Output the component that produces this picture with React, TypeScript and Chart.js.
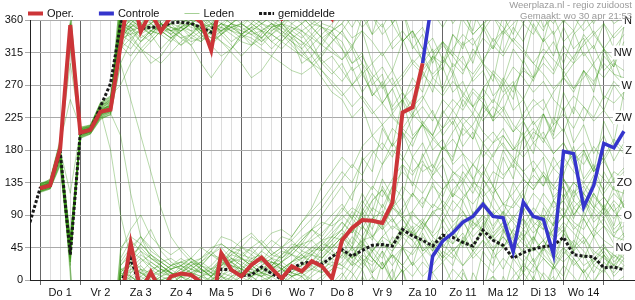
import { useEffect, useRef } from 'react';
import { Chart, registerables } from 'chart.js';

Chart.register(...registerables);

// ---- categories / ticks ----
const HOURS = [-6, 0, 6, 12, 18, 24, 30, 36, 42, 48, 54, 60, 66, 72, 78, 84, 90, 96, 102, 108, 114, 120, 126, 132, 138, 144, 150, 156, 162, 168, 174, 180, 186, 192, 198, 204, 210, 216, 222, 228, 234, 240, 246, 252, 258, 264, 270, 276, 282, 288, 294, 300, 306, 312, 318, 324, 330, 336, 342, 348];
const DAY_LABELS = ['Do 1', 'Vr 2', 'Za 3', 'Zo 4', 'Ma 5', 'Di 6', 'Wo 7', 'Do 8', 'Vr 9', 'Za 10', 'Zo 11', 'Ma 12', 'Di 13', 'Wo 14'];
const Y_TICKS = [0, 45, 90, 135, 180, 225, 270, 315, 360];
const COMPASS_VALUES = [360, 315, 270, 225, 180, 135, 90, 45];
const COMPASS_LABELS = ['N', 'NW', 'W', 'ZW', 'Z', 'ZO', 'O', 'NO'];
const SERIES_NAMES = ['Oper.', 'Controle', 'Leden', 'gemiddelde'];
const TITLE_LINES = ['Weerplaza.nl - regio zuidoost', 'Gemaakt: wo 30 apr 21:53'];

// ---- series (wind direction, degrees) ----
const OPER = [null, 127, 131, 182, 353, 204, 208, 233, 236, 325, 51, 344, 11, 344, 5, 9, 7, 357, 318, 37, 14, 5, 21, 31, 16, 2, 19, 12, 26, 19, 2, 55, 72, 83, 82, 79, 107, 232, 239, 300, null, null, null, null, null, null, null, null, null, null, null, null, null, null, null, null, null, null, null, null];
const CONTROLE = [null, null, null, null, null, null, null, null, null, null, null, null, null, null, null, null, null, null, null, null, null, null, null, null, null, null, null, null, null, null, null, null, null, null, null, null, null, null, null, 300, 33, 54, 65, 80, 88, 105, 88, 86, 39, 108, 88, 84, 35, 178, 175, 101, 131, 189, 183, 206];
const GEMIDDELDE = [80, 127, 131, 178, 35, 204, 208, 240, 272, 355, 30, 348, 350, 350, 356, 357, 355, 350, 343, 15, 14, 6, 7, 18, 9, 1, 16, 23, 25, 22, 32, 42, 33, 41, 48, 49, 47, 70, 61, 55, 47, 62, 59, 52, 47, 69, 55, 48, 30, 38, 43, 46, 48, 59, 35, 33, 32, 17, 18, 14];

const LID_01 = [null, 128, 133, 185, 350, 206, 210, 238, 242, 330, 355, 345, 5, 350, 2, 8, 5, 355, 320, 30, 12, 5, 20, 28, 15, 3, 18, 10, 25, 15, 5, 50, 72, 60, 85, 75, 100, 130, 115, 160, 150, 185, 170, 210, 195, 230, 250, 235, 270, 290, 280, 310, 330, 300, 340, 355, 20, 10, 40, 30];
const LID_02 = [null, 125, 130, 178, 45, 203, 207, 230, 236, 345, 10, 20, 5, 15, 10, 3, 8, 2, 350, 40, 25, 15, 30, 35, 20, 10, 25, 30, 40, 45, 35, 40, 30, 55, 60, 45, 50, 70, 65, 55, 40, 60, 75, 90, 80, 70, 55, 45, 60, 35, 20, 45, 70, 90, 75, 60, 40, 30, 20, 15];
const LID_03 = [null, 130, 136, 170, 35, 200, 205, 228, 240, 340, 350, 335, 345, 340, 330, 350, 355, 345, 335, 350, 340, 330, 325, 345, 355, 340, 330, 320, 335, 350, 345, 355, 335, 345, 300, 315, 290, 330, 345, 320, 335, 305, 290, 255, 280, 300, 275, 340, 355, 10, 350, 330, 345, 280, 260, 290, 270, 310, 295, 330];
const LID_04 = [null, 122, 128, 160, 30, 198, 206, 232, 245, 20, 35, 45, 30, 25, 15, 20, 10, 15, 5, 25, 35, 45, 40, 30, 20, 35, 45, 50, 55, 40, 60, 70, 95, 80, 110, 125, 100, 115, 80, 70, 95, 100, 125, 140, 120, 150, 130, 105, 100, 120, 80, 70, 95, 110, 85, 120, 100, 85, 105, 60];
const LID_05 = [null, 132, 138, 190, 355, 210, 212, 240, 250, 355, 345, 330, 340, 350, 345, 335, 340, 330, 345, 355, 350, 340, 335, 325, 340, 350, 335, 300, 310, 330, 345, 320, 290, 300, 255, 270, 235, 250, 265, 280, 310, 300, 340, 325, 335, 300, 285, 260, 275, 220, 240, 250, 215, 290, 265, 280, 300, 250, 275, 260];
const LID_06 = [null, 126, 131, 175, 50, 205, 209, 235, 238, 10, 5, 15, 355, 10, 20, 25, 30, 15, 10, 5, 355, 350, 5, 15, 25, 20, 10, 5, 15, 30, 45, 60, 85, 70, 100, 90, 130, 115, 170, 150, 160, 140, 115, 150, 130, 190, 170, 200, 180, 205, 150, 170, 110, 130, 90, 110, 95, 150, 125, 120];
const LID_07 = [null, 129, 134, 168, 25, 202, 204, 226, 232, 335, 5, 355, 350, 345, 355, 5, 15, 10, 355, 345, 350, 340, 350, 0, 5, 15, 25, 35, 20, 10, 30, 40, 20, 30, 5, 350, 15, 330, 345, 300, 320, 260, 285, 240, 265, 250, 290, 275, 320, 300, 355, 330, 20, 5, 50, 30, 60, 35, 15, 40];
const LID_08 = [null, 124, 129, 182, 40, 207, 211, 236, 248, 350, 40, 60, 45, 30, 20, 15, 25, 30, 45, 50, 40, 35, 30, 25, 45, 60, 55, 40, 35, 50, 65, 80, 65, 90, 60, 75, 45, 70, 55, 80, 65, 95, 70, 85, 50, 65, 40, 60, 45, 70, 55, 90, 75, 120, 90, 110, 80, 95, 65, 75];
const LID_09 = [null, 131, 140, 195, 340, 212, 214, 244, 252, 345, 340, 320, 300, 310, 330, 345, 355, 340, 325, 310, 320, 340, 350, 345, 330, 320, 335, 345, 355, 5, 15, 25, 45, 30, 20, 40, 355, 15, 320, 340, 300, 330, 310, 10, 345, 40, 20, 70, 45, 100, 75, 90, 60, 75, 40, 55, 20, 35, 5, 20];
const LID_10 = [null, 127, 132, 172, 55, 204, 208, 231, 239, 15, 20, 10, 5, 0, 5, 10, 20, 25, 15, 20, 30, 25, 15, 10, 5, 10, 20, 30, 35, 25, 20, 15, 35, 20, 45, 30, 60, 45, 70, 40, 55, 35, 20, 60, 40, 80, 55, 70, 40, 60, 25, 45, 30, 65, 50, 95, 70, 85, 60, 55];
const LID_11 = [null, 123, 127, 165, 38, 199, 203, 225, 228, 300, 330, 350, 340, 355, 345, 350, 340, 355, 5, 340, 350, 355, 345, 335, 350, 355, 5, 10, 355, 350, 340, 330, 300, 315, 270, 285, 230, 250, 200, 215, 180, 195, 160, 175, 140, 160, 130, 180, 155, 220, 195, 230, 205, 240, 190, 215, 175, 200, 165, 190];
const LID_12 = [null, 133, 137, 188, 300, 209, 213, 242, 246, 340, 355, 5, 15, 20, 10, 5, 0, 355, 350, 5, 15, 10, 5, 20, 30, 40, 35, 25, 15, 10, 20, 35, 60, 45, 85, 70, 100, 90, 120, 100, 135, 105, 80, 95, 70, 85, 60, 75, 50, 65, 40, 55, 30, 45, 20, 35, 10, 35, 20, 50];
const LID_13 = [null, 128, 135, 176, 42, 206, 210, 237, 241, 320, 350, 0, 10, 355, 350, 345, 355, 5, 10, 20, 25, 15, 10, 5, 10, 5, 15, 20, 25, 20, 30, 45, 30, 60, 40, 55, 30, 45, 20, 35, 10, 25, 355, 15, 340, 355, 5, 340, 30, 10, 60, 40, 80, 65, 100, 85, 120, 95, 130, 100];
const LID_14 = [null, 121, 126, 158, 20, 196, 202, 222, 230, 10, 25, 50, 70, 40, 25, 15, 5, 20, 35, 45, 30, 20, 10, 5, 15, 25, 40, 55, 70, 90, 110, 130, 110, 170, 150, 210, 185, 250, 225, 290, 260, 310, 285, 330, 300, 350, 320, 5, 340, 25, 0, 45, 20, 65, 40, 85, 60, 105, 75, 125];
const LID_15 = [null, 130, 134, 180, 120, 208, 210, 234, 180, 90, 30, 15, 5, 10, 15, 20, 10, 5, 0, 10, 25, 35, 45, 30, 25, 15, 5, 10, 20, 35, 50, 65, 45, 95, 70, 105, 85, 60, 75, 40, 50, 30, 70, 45, 95, 65, 115, 90, 135, 110, 155, 130, 170, 145, 185, 140, 160, 120, 140, 100];
const LID_16 = [null, 126, 130, 174, 48, 203, 206, 229, 235, 355, 350, 340, 330, 345, 355, 350, 345, 335, 330, 340, 355, 5, 355, 345, 340, 330, 320, 310, 300, 280, 260, 250, 225, 240, 200, 215, 185, 205, 170, 190, 155, 185, 165, 215, 195, 245, 220, 275, 250, 305, 280, 335, 310, 350, 320, 335, 300, 320, 285, 280];
const LID_17 = [null, 129, 133, 183, 358, 207, 209, 239, 244, 335, 340, 345, 355, 5, 10, 355, 350, 345, 340, 355, 5, 10, 15, 5, 355, 350, 5, 15, 25, 40, 55, 70, 50, 100, 80, 130, 105, 160, 130, 175, 145, 160, 115, 135, 90, 110, 70, 95, 60, 85, 50, 100, 75, 140, 110, 180, 150, 220, 190, 260];
const LID_18 = [null, 125, 131, 170, 33, 201, 205, 227, 233, 5, 355, 345, 350, 0, 5, 10, 5, 355, 350, 345, 355, 5, 10, 15, 10, 5, 355, 345, 335, 325, 315, 305, 320, 285, 300, 265, 280, 245, 280, 260, 310, 290, 340, 320, 10, 345, 40, 15, 45, 10, 30, 350, 5, 330, 345, 310, 325, 290, 305, 270];
const LID_19 = [null, 134, 139, 192, 250, 211, 215, 246, 255, 270, 300, 320, 310, 300, 315, 330, 340, 350, 355, 350, 345, 340, 330, 320, 310, 300, 290, 285, 295, 310, 330, 345, 320, 5, 340, 25, 0, 45, 20, 65, 40, 85, 60, 110, 80, 140, 115, 170, 140, 200, 175, 230, 200, 260, 230, 290, 260, 320, 295, 350];
const LID_20 = [null, 127, 132, 177, 60, 204, 207, 233, 237, 350, 25, 40, 30, 20, 10, 5, 355, 350, 5, 15, 25, 30, 20, 10, 5, 15, 25, 35, 45, 55, 60, 55, 30, 45, 10, 25, 355, 15, 335, 350, 315, 330, 295, 310, 275, 290, 255, 270, 235, 250, 215, 230, 195, 210, 175, 190, 155, 170, 135, 150];
const LID_21 = [null, 129, 134, 181, 30, 205, 209, 236, 240, 350, 15, 30, 20, 10, 5, 15, 25, 20, 10, 30, 45, 40, 25, 15, 20, 35, 50, 45, 60, 75, 90, 105, 85, 120, 95, 140, 115, 90, 70, 85, 60, 75, 50, 65, 40, 55, 30, 45, 70, 55, 90, 70, 110, 85, 125, 100, 140, 115, 95, 80];
const LID_22 = [null, 126, 130, 176, 352, 203, 208, 234, 243, 340, 330, 315, 330, 345, 355, 340, 325, 340, 355, 345, 330, 340, 350, 335, 320, 335, 350, 345, 330, 300, 285, 300, 270, 290, 255, 275, 240, 260, 230, 250, 280, 265, 300, 285, 320, 300, 335, 315, 350, 330, 5, 345, 20, 355, 30, 10, 340, 355, 320, 340];
const LID_23 = [null, 124, 129, 168, 45, 201, 205, 229, 236, 5, 20, 35, 25, 15, 5, 10, 20, 30, 40, 25, 15, 30, 45, 55, 40, 30, 45, 60, 70, 55, 40, 30, 45, 25, 40, 20, 35, 10, 25, 5, 20, 40, 30, 55, 45, 70, 60, 80, 65, 50, 40, 55, 35, 25, 40, 20, 30, 45, 35, 25];
const LID_24 = [null, 131, 136, 187, 340, 208, 212, 241, 248, 355, 350, 5, 355, 345, 335, 345, 355, 350, 340, 330, 320, 335, 345, 355, 350, 340, 325, 310, 325, 340, 355, 10, 350, 15, 340, 355, 320, 335, 300, 315, 280, 295, 260, 275, 240, 255, 220, 235, 205, 220, 190, 205, 175, 190, 160, 175, 150, 165, 140, 155];
const LID_25 = [null, 127, 133, 179, 50, 204, 208, 235, 239, 25, 45, 60, 40, 30, 20, 25, 15, 10, 20, 35, 25, 45, 60, 50, 35, 45, 55, 70, 85, 100, 120, 140, 160, 145, 175, 190, 170, 205, 185, 220, 200, 235, 215, 250, 230, 265, 245, 280, 260, 295, 275, 310, 290, 325, 305, 340, 320, 355, 335, 350];
const LID_26 = [null, 123, 128, 166, 28, 199, 204, 228, 234, 340, 355, 10, 0, 350, 345, 355, 5, 15, 5, 355, 345, 355, 5, 15, 25, 15, 5, 355, 5, 15, 25, 20, 35, 50, 40, 60, 75, 65, 90, 80, 105, 95, 120, 110, 135, 125, 150, 140, 165, 150, 130, 145, 115, 130, 100, 115, 85, 100, 70, 85];
const LID_27 = [null, 130, 135, 186, 355, 207, 211, 240, 246, 330, 345, 355, 345, 340, 350, 340, 330, 335, 350, 5, 355, 345, 340, 330, 345, 355, 340, 330, 320, 305, 290, 275, 295, 260, 280, 245, 265, 230, 250, 215, 235, 200, 220, 185, 205, 170, 190, 200, 180, 195, 210, 190, 225, 205, 240, 220, 255, 235, 270, 250];
const LID_28 = [null, 128, 132, 180, 40, 205, 209, 232, 238, 15, 10, 25, 35, 20, 10, 0, 355, 5, 15, 25, 20, 15, 10, 20, 30, 25, 15, 20, 35, 50, 45, 60, 45, 75, 55, 90, 70, 85, 60, 75, 50, 65, 40, 55, 30, 45, 60, 45, 70, 85, 65, 80, 55, 70, 45, 60, 35, 50, 25, 40];
const LID_29 = [null, 125, 129, 172, 20, 202, 206, 231, 235, 345, 0, 15, 10, 355, 340, 350, 0, 345, 330, 340, 355, 10, 0, 350, 340, 330, 345, 355, 10, 25, 40, 55, 70, 50, 85, 95, 80, 100, 120, 105, 130, 115, 150, 140, 160, 145, 175, 190, 165, 180, 205, 195, 215, 230, 210, 240, 225, 255, 245, 260];
const LID_30 = [null, 132, 137, 184, 345, 209, 213, 243, 251, 350, 335, 320, 335, 350, 340, 325, 335, 345, 355, 340, 325, 310, 325, 340, 355, 345, 330, 315, 300, 315, 330, 345, 5, 25, 10, 40, 20, 45, 35, 55, 30, 60, 50, 80, 60, 75, 95, 70, 85, 105, 90, 120, 100, 110, 135, 120, 145, 125, 150, 140];
const LID_31 = [null, 126, 131, 174, 55, 203, 207, 230, 237, 10, 30, 50, 35, 25, 15, 20, 30, 45, 35, 25, 40, 55, 65, 50, 35, 30, 40, 55, 70, 80, 75, 85, 100, 90, 110, 125, 105, 85, 95, 75, 90, 110, 95, 115, 130, 110, 90, 105, 85, 70, 90, 75, 60, 80, 65, 50, 70, 55, 45, 60];
const LID_32 = [null, 129, 134, 182, 350, 206, 210, 237, 241, 325, 310, 330, 345, 355, 345, 335, 325, 300, 280, 300, 320, 340, 355, 345, 330, 340, 355, 5, 350, 335, 320, 305, 325, 300, 280, 295, 270, 285, 305, 290, 310, 330, 315, 300, 285, 305, 325, 310, 335, 320, 300, 285, 265, 280, 300, 315, 295, 280, 300, 290];
const LID_33 = [null, 122, 127, 162, 35, 197, 203, 224, 231, 200, 120, 60, 30, 20, 10, 5, 15, 25, 35, 30, 20, 10, 15, 25, 35, 45, 60, 80, 100, 130, 150, 170, 155, 185, 200, 180, 210, 195, 225, 240, 220, 250, 235, 215, 230, 205, 190, 210, 185, 170, 190, 175, 155, 170, 150, 135, 155, 140, 125, 145];
const LID_34 = [null, 133, 138, 189, 330, 210, 214, 245, 253, 350, 5, 355, 340, 320, 335, 350, 0, 345, 330, 345, 355, 340, 325, 335, 350, 355, 340, 320, 300, 290, 275, 260, 240, 255, 235, 215, 230, 210, 195, 215, 200, 180, 195, 175, 160, 180, 165, 145, 160, 140, 125, 145, 130, 115, 135, 120, 100, 115, 95, 110];
const LID_35 = [null, 128, 133, 178, 45, 205, 208, 233, 240, 20, 40, 30, 15, 5, 0, 10, 25, 15, 5, 20, 40, 30, 20, 10, 25, 20, 10, 25, 40, 30, 50, 40, 25, 45, 30, 15, 35, 20, 5, 25, 10, 350, 15, 0, 340, 355, 330, 345, 5, 20, 10, 30, 15, 40, 25, 10, 30, 15, 35, 20];
const LID_36 = [null, 127, 131, 175, 38, 204, 207, 232, 238, 355, 345, 350, 5, 15, 10, 355, 345, 350, 0, 10, 5, 355, 345, 335, 350, 5, 15, 10, 0, 350, 335, 320, 300, 310, 285, 270, 290, 260, 240, 255, 230, 210, 225, 200, 215, 240, 225, 255, 270, 250, 280, 300, 285, 315, 300, 330, 345, 320, 340, 355];
const LID_37 = [null, 124, 128, 169, 42, 200, 205, 227, 234, 15, 5, 355, 10, 25, 15, 5, 10, 20, 15, 5, 0, 15, 25, 40, 30, 15, 25, 40, 55, 65, 80, 95, 120, 140, 125, 160, 180, 165, 195, 215, 200, 230, 250, 235, 260, 245, 225, 240, 215, 200, 220, 195, 175, 190, 165, 180, 150, 170, 195, 180];
const LID_38 = [null, 131, 135, 186, 345, 208, 212, 241, 249, 340, 350, 330, 345, 355, 345, 350, 335, 330, 345, 355, 345, 335, 345, 355, 5, 355, 345, 335, 350, 0, 15, 35, 20, 50, 30, 15, 40, 60, 45, 70, 95, 80, 110, 95, 75, 90, 65, 80, 55, 40, 60, 35, 20, 45, 30, 10, 25, 40, 20, 35];
const LID_39 = [null, 128, 133, 181, 48, 206, 209, 236, 242, 30, 55, 40, 20, 10, 20, 30, 20, 10, 5, 15, 30, 20, 10, 5, 20, 30, 45, 35, 25, 45, 60, 80, 65, 95, 120, 100, 130, 150, 135, 120, 145, 170, 150, 135, 160, 140, 120, 135, 110, 95, 120, 105, 85, 100, 80, 70, 95, 75, 60, 85];
const LID_40 = [null, 125, 130, 173, 30, 202, 206, 230, 236, 335, 350, 355, 345, 350, 355, 5, 355, 340, 325, 340, 350, 355, 345, 330, 340, 355, 350, 340, 320, 300, 310, 290, 270, 285, 260, 245, 265, 280, 300, 285, 270, 255, 275, 260, 240, 220, 240, 225, 205, 230, 250, 235, 260, 280, 265, 290, 275, 300, 285, 270];
const LID_41 = [null, 129, 134, 180, 352, 205, 209, 234, 240, 5, 15, 10, 0, 355, 5, 15, 10, 5, 355, 5, 20, 15, 5, 10, 20, 15, 5, 10, 15, 25, 30, 20, 10, 350, 5, 340, 355, 330, 345, 320, 305, 325, 310, 290, 310, 335, 320, 345, 330, 355, 340, 10, 355, 20, 5, 345, 0, 15, 355, 5];
const LID_42 = [null, 122, 126, 160, 25, 197, 202, 223, 229, 300, 250, 200, 150, 100, 60, 40, 25, 15, 5, 20, 35, 30, 20, 10, 15, 25, 35, 50, 40, 55, 70, 90, 75, 105, 130, 115, 140, 160, 145, 170, 195, 180, 205, 225, 210, 190, 205, 185, 170, 150, 165, 145, 125, 140, 115, 130, 105, 90, 110, 95];
const LID_43 = [null, 133, 138, 191, 335, 210, 214, 245, 254, 330, 320, 340, 350, 345, 335, 325, 340, 355, 345, 330, 315, 300, 280, 290, 310, 330, 345, 355, 340, 325, 345, 5, 25, 15, 40, 60, 50, 75, 65, 45, 30, 50, 35, 20, 40, 25, 10, 30, 15, 355, 20, 5, 340, 0, 345, 15, 355, 25, 10, 30];
const LID_44 = [null, 126, 132, 177, 52, 204, 208, 233, 239, 45, 60, 50, 35, 25, 30, 20, 15, 25, 40, 60, 55, 45, 35, 50, 65, 70, 60, 80, 95, 110, 130, 150, 135, 165, 180, 160, 190, 170, 150, 165, 140, 125, 145, 160, 140, 115, 130, 105, 120, 140, 125, 150, 130, 155, 175, 160, 185, 165, 190, 175];
const LID_45 = [null, 130, 135, 184, 5, 207, 211, 239, 245, 345, 0, 350, 340, 355, 350, 345, 355, 345, 335, 345, 355, 350, 340, 345, 355, 345, 335, 325, 340, 355, 350, 340, 325, 345, 330, 310, 330, 345, 325, 305, 285, 300, 320, 340, 325, 345, 5, 350, 330, 315, 300, 320, 305, 290, 310, 325, 340, 320, 305, 325];
const LID_46 = [null, 123, 127, 164, 32, 198, 203, 225, 232, 5, 20, 10, 25, 15, 5, 20, 30, 20, 10, 0, 10, 20, 35, 25, 15, 25, 35, 30, 45, 40, 55, 70, 90, 75, 60, 80, 100, 85, 65, 80, 60, 45, 65, 50, 70, 90, 75, 95, 80, 60, 75, 55, 70, 90, 110, 95, 120, 100, 85, 105];
const LID_47 = [null, 127, 131, 176, 355, 203, 207, 231, 237, 350, 340, 355, 5, 350, 340, 355, 5, 355, 345, 350, 5, 15, 5, 355, 345, 355, 10, 5, 350, 335, 345, 355, 15, 35, 25, 50, 40, 65, 55, 35, 50, 30, 45, 20, 35, 55, 40, 65, 90, 75, 100, 85, 110, 95, 70, 85, 60, 75, 50, 65];
const LID_48 = [null, 132, 136, 188, 58, 209, 212, 242, 250, 40, 70, 90, 60, 45, 35, 45, 30, 20, 35, 50, 40, 30, 25, 40, 55, 45, 35, 50, 70, 60, 80, 100, 85, 110, 90, 70, 85, 65, 95, 115, 100, 125, 140, 120, 105, 125, 100, 85, 105, 125, 145, 130, 155, 140, 120, 135, 115, 100, 120, 105];
const LID_49 = [null, 128, 132, 179, 320, 206, 210, 235, 241, 320, 335, 345, 355, 345, 335, 345, 355, 350, 345, 355, 350, 345, 355, 10, 0, 350, 340, 330, 310, 290, 270, 255, 270, 250, 230, 245, 225, 210, 230, 215, 195, 210, 235, 255, 240, 265, 285, 270, 295, 280, 260, 275, 250, 235, 255, 240, 220, 235, 215, 230];
const LID_50 = [null, 125, 129, 171, 15, 201, 205, 229, 233, 10, 0, 350, 355, 5, 15, 25, 20, 10, 15, 30, 25, 10, 5, 355, 5, 15, 10, 20, 35, 30, 45, 60, 40, 55, 30, 15, 35, 20, 40, 60, 45, 25, 40, 55, 80, 65, 45, 60, 40, 25, 45, 30, 15, 35, 55, 40, 25, 45, 30, 50];
const LEDEN = [LID_01, LID_02, LID_03, LID_04, LID_05, LID_06, LID_07, LID_08, LID_09, LID_10, LID_11, LID_12, LID_13, LID_14, LID_15, LID_16, LID_17, LID_18, LID_19, LID_20, LID_21, LID_22, LID_23, LID_24, LID_25, LID_26, LID_27, LID_28, LID_29, LID_30, LID_31, LID_32, LID_33, LID_34, LID_35, LID_36, LID_37, LID_38, LID_39, LID_40, LID_41, LID_42, LID_43, LID_44, LID_45, LID_46, LID_47, LID_48, LID_49, LID_50];

// ---- styles ----
const FONT = "'Liberation Sans', Arial, sans-serif";
const RED = '#cc3538';
const BLUE = '#3535cc';
const GREEN = 'rgba(55,150,20,0.36)';
const BLACK = '#1a1a1a';

function unwrap(vals: (number | null)[]) {
  const out: (number | null)[] = [];
  let prev: number | null = null;
  for (const v of vals) {
    if (v == null) { out.push(null); prev = null; continue; }
    let u = v;
    if (prev != null) {
      while (u - prev > 180) u -= 360;
      while (u - prev < -180) u += 360;
    }
    out.push(u);
    prev = u;
  }
  return out;
}

function wrapped(vals: (number | null)[], base: any) {
  const u = unwrap(vals);
  const nums = u.filter((n) => n != null) as number[];
  const kmin = Math.floor(Math.min(...nums) / 360);
  const kmax = Math.floor(Math.max(...nums) / 360);
  const res: any[] = [];
  for (let k = kmin; k <= kmax; k++) {
    res.push({
      ...base,
      data: HOURS.map((h, i) => ({ x: h, y: u[i] == null ? null : (u[i] as number) - 360 * k })),
    });
  }
  return res;
}

const decorPlugin = {
  id: 'decor',
  afterDatasetsDraw(chart: any) {
    const ctx = chart.ctx;
    const ys = chart.scales.y;
    ctx.save();
    ctx.font = `11px ${FONT}`;
    ctx.textAlign = 'right';
    ctx.textBaseline = 'middle';
    COMPASS_VALUES.forEach((v, i) => {
      const y = ys.getPixelForValue(v);
      const label = COMPASS_LABELS[i];
      const w = ctx.measureText(label).width;
      ctx.fillStyle = '#ffffff';
      ctx.fillRect(632 - w - 2, y - 7, w + 5, 14);
      ctx.fillStyle = '#111';
      ctx.fillText(label, 632, y + 0.5);
    });
    ctx.restore();
  },
  afterDraw(chart: any) {
    const ctx = chart.ctx;
    ctx.save();
    const styles = [
      { color: RED, width: 4, dash: [] as number[] },
      { color: BLUE, width: 4, dash: [] as number[] },
      { color: 'rgba(55,150,20,0.45)', width: 1, dash: [] as number[] },
      { color: BLACK, width: 3, dash: [3, 1.5] },
    ];
    ctx.font = `11px ${FONT}`;
    ctx.textBaseline = 'middle';
    ctx.textAlign = 'left';
    let x = 28;
    const y = 13.5;
    SERIES_NAMES.forEach((name, i) => {
      const s = styles[i];
      ctx.beginPath();
      ctx.strokeStyle = s.color;
      ctx.lineWidth = s.width;
      ctx.setLineDash(s.dash);
      ctx.moveTo(x, y);
      ctx.lineTo(x + 15, y);
      ctx.stroke();
      ctx.setLineDash([]);
      ctx.fillStyle = '#111';
      ctx.fillText(name, x + 19, y);
      x += 19 + ctx.measureText(name).width + 25;
    });
    ctx.font = `9.5px ${FONT}`;
    ctx.fillStyle = '#9a9a9a';
    ctx.textAlign = 'right';
    ctx.textBaseline = 'alphabetic';
    ctx.fillText(TITLE_LINES[0], 632, 7.5);
    ctx.fillText(TITLE_LINES[1], 632, 18.5);
    ctx.restore();
  },
};

export default function App() {
  const ref = useRef<HTMLCanvasElement | null>(null);
  useEffect(() => {
    if (!ref.current) return;
    Chart.defaults.font.family = FONT;
    const datasets: any[] = [];
    LEDEN.forEach((m) => {
      datasets.push(...wrapped(m, { label: SERIES_NAMES[2], borderColor: GREEN, borderWidth: 1, order: 4 }));
    });
    datasets.push(...wrapped(GEMIDDELDE, { label: SERIES_NAMES[3], borderColor: BLACK, borderWidth: 3, borderDash: [3, 2], order: 3 }));
    datasets.push(...wrapped(CONTROLE, { label: SERIES_NAMES[1], borderColor: BLUE, borderWidth: 3.5, order: 2 }));
    datasets.push(...wrapped(OPER, { label: SERIES_NAMES[0], borderColor: RED, borderWidth: 4, order: 1 }));
    datasets.forEach((d) => {
      d.pointRadius = 0;
      d.tension = 0;
      d.fill = false;
      d.clip = 0;
      d.spanGaps = false;
    });

    const chart = new Chart(ref.current, {
      type: 'line',
      data: { datasets },
      options: {
        animation: false,
        responsive: true,
        maintainAspectRatio: false,
        events: [],
        layout: { padding: { top: 20, right: 1, left: 0, bottom: 0 } },
        plugins: { legend: { display: false }, tooltip: { enabled: false } },
        scales: {
          x: {
            type: 'linear',
            min: -6,
            max: 354,
            afterBuildTicks: (s: any) => { s.ticks = HOURS.map((v) => ({ value: v })); },
            afterFit: (s: any) => { s.height = 20; },
            ticks: {
              autoSkip: false,
              maxRotation: 0,
              minRotation: 0,
              padding: 1,
              color: '#111',
              font: { size: 11 },
              callback: (v: any) => {
                const n = Number(v);
                if (n >= 12 && (n - 12) % 24 === 0) return DAY_LABELS[(n - 12) / 24] ?? '';
                return '';
              },
            },
            grid: {
              color: (c: any) => (c.tick && c.tick.value % 24 === 0 ? '#666' : '#dcdcdc'),
              tickColor: (c: any) => (c.tick && c.tick.value % 24 === 0 ? '#666' : 'rgba(0,0,0,0)'),
              tickLength: 5,
              lineWidth: 1,
            },
            border: { color: '#222' },
          },
          y: {
            min: 0,
            max: 360,
            afterBuildTicks: (s: any) => { s.ticks = Y_TICKS.map((v) => ({ value: v })); },
            afterFit: (s: any) => { s.width = 30; },
            ticks: { padding: 2, color: '#111', font: { size: 11 } },
            grid: { color: '#aaaaaa', tickColor: '#aaaaaa', tickLength: 5 },
            border: { color: '#222' },
          },
        },
      },
      plugins: [decorPlugin],
    });
    return () => chart.destroy();
  }, []);

  return (
    <div style={{ position: 'fixed', left: 0, top: 0, width: 635, height: 300, background: '#fff' }}>
      <canvas ref={ref} />
    </div>
  );
}
